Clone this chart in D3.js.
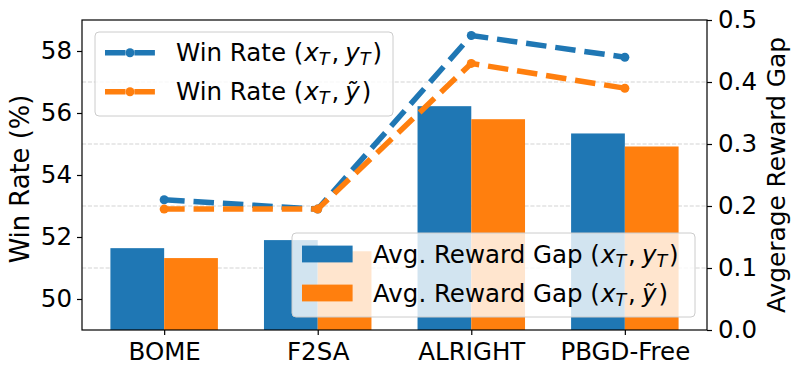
<!DOCTYPE html>
<html>
<head>
<meta charset="utf-8">
<script src="https://cdn.jsdelivr.net/npm/d3@7"></script>
<style>
    body { margin: 0; background: #fff; }
    svg { display: block; font-family: "DejaVu Sans", sans-serif; }
</style>
</head>
<body>
<svg id="chart"></svg>
<script>
// Chart values
const categories = ["BOME", "F2SA", "ALRIGHT", "PBGD-Free"];
const winRateT = [53.2, 52.9, 58.5, 57.8];       // Win Rate (x_T, y_T)
const winRateTilde = [52.9, 52.9, 57.6, 56.8];   // Win Rate (x_T, ỹ)
const gapT = [0.132, 0.145, 0.361, 0.317];       // Avg. Reward Gap (x_T, y_T)
const gapTilde = [0.116, 0.127, 0.340, 0.296];   // Avg. Reward Gap (x_T, ỹ)
const leftTicks = [50, 52, 54, 56, 58];
const rightTicks = [0, 0.1, 0.2, 0.3, 0.4, 0.5];

const blue = "#1f77b4";
const orange = "#ff7f0e";

const W = 798, H = 375;
const plot = { left: 82, right: 707, top: 20, bottom: 330 };
const barWidth = 0.35;

const svg = d3.select("#chart").attr("width", W).attr("height", H);

// Scales: category index on x, win rate on left, reward gap on right
const xScale = d3.scaleLinear().domain([-0.535, 3.535]).range([plot.left, plot.right]);
const yLeft = d3.scaleLinear().domain([49, 59]).range([plot.bottom, plot.top]);
const yRight = d3.scaleLinear().domain([0, 0.5]).range([plot.bottom, plot.top]);

// Dashed grid from the right axis ticks
svg.append("g")
    .selectAll("line")
    .data(rightTicks.filter(t => t > 0 && t < 0.5))
    .join("line")
    .attr("x1", plot.left).attr("x2", plot.right)
    .attr("y1", d => yRight(d)).attr("y2", d => yRight(d))
    .attr("stroke", "#b0b0b0").attr("stroke-opacity", 0.55)
    .attr("stroke-width", 1).attr("stroke-dasharray", "4.1,1.8");

// Grouped bars on the right axis
const barSeries = [
    { values: gapT, color: blue, offset: -barWidth },
    { values: gapTilde, color: orange, offset: 0 }
];
barSeries.forEach(s => {
    svg.append("g")
        .selectAll("rect")
        .data(s.values)
        .join("rect")
        .attr("x", (d, i) => xScale(i + s.offset))
        .attr("width", xScale(barWidth) - xScale(0))
        .attr("y", d => yRight(d))
        .attr("height", d => yRight(0) - yRight(d))
        .attr("fill", s.color);
});

// Dashed lines with markers on the left axis
const lineSeries = [
    { values: winRateT, color: blue },
    { values: winRateTilde, color: orange }
];
const line = d3.line().x((d, i) => xScale(i)).y(d => yLeft(d));
lineSeries.forEach(s => {
    svg.append("path")
        .datum(s.values)
        .attr("fill", "none")
        .attr("stroke", s.color)
        .attr("stroke-width", 5.5)
        .attr("stroke-dasharray", "20.5,8.9")
        .attr("d", line);
    svg.append("g")
        .selectAll("circle")
        .data(s.values)
        .join("circle")
        .attr("cx", (d, i) => xScale(i))
        .attr("cy", d => yLeft(d))
        .attr("r", 4.5)
        .attr("fill", s.color);
});

// Frame
svg.append("rect")
    .attr("x", plot.left).attr("y", plot.top)
    .attr("width", plot.right - plot.left).attr("height", plot.bottom - plot.top)
    .attr("fill", "none").attr("stroke", "#000").attr("stroke-width", 1.2);

// Axes
const tickFont = "24.5px";
const leftAxis = svg.append("g")
    .attr("transform", `translate(${plot.left},0)`)
    .call(d3.axisLeft(yLeft).tickValues(leftTicks).tickSize(5).tickPadding(5));
const rightAxis = svg.append("g")
    .attr("transform", `translate(${plot.right},0)`)
    .call(d3.axisRight(yRight).tickValues(rightTicks).tickSize(5).tickPadding(6).tickFormat(d3.format(".1f")));
const bottomAxis = svg.append("g")
    .attr("transform", `translate(0,${plot.bottom})`)
    .call(d3.axisBottom(xScale).tickValues(d3.range(categories.length)).tickSize(5).tickPadding(6)
        .tickFormat(i => categories[i]));
[leftAxis, rightAxis, bottomAxis].forEach(a => {
    a.select(".domain").remove();
    a.selectAll("line").attr("stroke", "#000").attr("stroke-width", 1.2);
    a.selectAll("text").attr("font-size", tickFont).attr("fill", "#000")
        .attr("font-family", "DejaVu Sans");
});
bottomAxis.selectAll("text").attr("dy", "0.76em");

// Axis titles
svg.append("text")
    .attr("transform", `translate(29,${(plot.top + plot.bottom) / 2 + 4}) rotate(-90)`)
    .attr("text-anchor", "middle").attr("font-size", "25.8px")
    .text("Win Rate (%)");
svg.append("text")
    .attr("transform", `translate(785,${(plot.top + plot.bottom) / 2}) rotate(-90)`)
    .attr("text-anchor", "middle").attr("font-size", "24.8px")
    .text("Avgerage Reward Gap");

// Legend label with math-style parts: (x_T, y_T) or (x_T, ỹ)
function legendLabel(g, x, y, prefix, tilde) {
    const t = g.append("text").attr("x", x).attr("y", y).attr("font-size", "24.5px");
    t.append("tspan").text(prefix + " (");
    t.append("tspan").attr("font-style", "italic").attr("dx", 1).text("x");
    t.append("tspan").attr("font-style", "italic").attr("font-size", "17.5px").attr("dy", 4).text("T");
    t.append("tspan").attr("dy", -4).attr("dx", 2).text(",");
    if (tilde) {
        t.append("tspan").attr("font-style", "italic").attr("dx", 6).text("ỹ");
        t.append("tspan").attr("dx", 2).text(")");
    } else {
        t.append("tspan").attr("font-style", "italic").attr("dx", 6).text("y");
        t.append("tspan").attr("font-style", "italic").attr("font-size", "17.5px").attr("dy", 4).text("T");
        t.append("tspan").attr("dy", -4).attr("dx", 2).text(")");
    }
}

function legendBox(g, x, y, w, h) {
    g.append("rect")
        .attr("x", x).attr("y", y).attr("width", w).attr("height", h).attr("rx", 4)
        .attr("fill", "#fff").attr("fill-opacity", 0.8)
        .attr("stroke", "#cccccc").attr("stroke-width", 1);
}

// Line legend (upper left)
const legend1 = svg.append("g");
legendBox(legend1, 95, 32, 298, 84);
const rows1 = [52.7, 91.7];
lineSeries.forEach((s, i) => {
    legend1.append("line")
        .attr("x1", 105).attr("x2", 155).attr("y1", rows1[i]).attr("y2", rows1[i])
        .attr("stroke", s.color).attr("stroke-width", 5.5).attr("stroke-dasharray", "20.5,8.9");
    legend1.append("circle").attr("cx", 130).attr("cy", rows1[i]).attr("r", 4.5).attr("fill", s.color);
    legendLabel(legend1, 176, rows1[i] + 8.7, "Win Rate", i === 1);
});

// Bar legend (lower right)
const legend2 = svg.append("g");
legendBox(legend2, 292, 233, 403, 84);
const rows2 = [254, 293];
barSeries.forEach((s, i) => {
    legend2.append("rect")
        .attr("x", 302).attr("y", rows2[i] - 8.4).attr("width", 50.6).attr("height", 16.8)
        .attr("fill", s.color);
    legendLabel(legend2, 373, rows2[i] + 8.7, "Avg. Reward Gap", i === 1);
});
</script>
</body>
</html>
